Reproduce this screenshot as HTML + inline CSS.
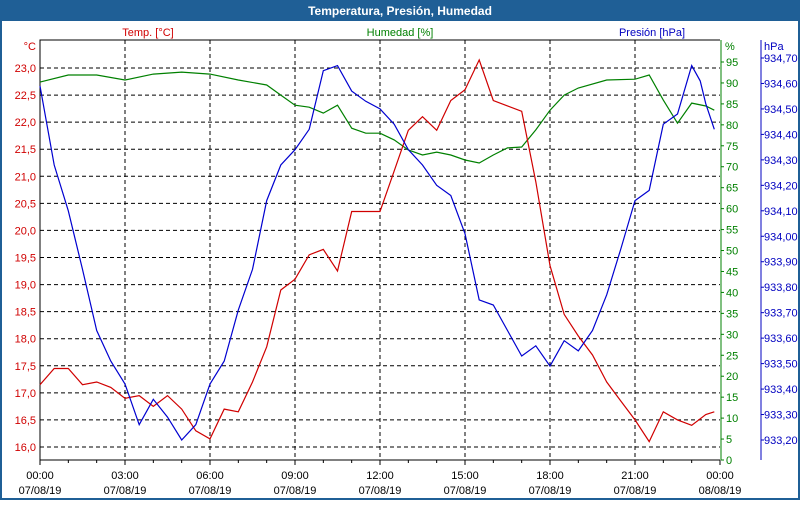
<!DOCTYPE html>
<html><head><meta charset="utf-8"><style>
body{margin:0;background:#fff;font-family:"Liberation Sans",sans-serif}
svg text{font-family:"Liberation Sans",sans-serif;font-size:11px}
</style></head><body>
<svg id="c" width="800" height="500" xmlns="http://www.w3.org/2000/svg">
<rect x="0" y="0" width="800" height="500" fill="#fff" stroke="#1f5f96" stroke-width="4"/>
<rect x="0" y="0" width="800" height="21" fill="#1f5f96"/>
<text x="400" y="15" text-anchor="middle" fill="#fff" font-weight="bold" style="font-size:12px">Temperatura, Presión, Humedad</text>
<text x="148" y="36" text-anchor="middle" fill="#d00000">Temp. [°C]</text>
<text x="400" y="36" text-anchor="middle" fill="#008000">Humedad [%]</text>
<text x="652" y="36" text-anchor="middle" fill="#0000c0">Presión [hPa]</text>
<text x="36" y="50" text-anchor="end" fill="#d00000">°C</text>
<text x="725" y="50" fill="#008000">%</text>
<text x="764" y="50" fill="#0000c0">hPa</text>
<g id="g"></g>
</svg>
<script>
const hours=[0,.5,1,1.5,2,2.5,3,3.5,4,4.5,5,5.5,6,6.5,7,7.5,8,8.5,9,9.5,10,10.5,11,11.5,12,12.5,13,13.5,14,14.5,15,15.5,16,16.5,17,17.5,18,18.5,19,19.5,20,20.5,21,21.5,22,22.5,23,23.5,23.8];
const temp=[17.15,17.45,17.45,17.15,17.2,17.1,16.9,16.95,16.75,16.95,16.7,16.3,16.15,16.7,16.65,17.2,17.85,18.9,19.1,19.55,19.65,19.25,20.35,20.35,20.35,21.1,21.85,22.1,21.85,22.4,22.6,23.15,22.4,22.3,22.2,20.9,19.35,18.45,18.05,17.7,17.2,16.85,16.5,16.1,16.65,16.5,16.4,16.6,16.65];
const humHours=[0,1,2,3,4,5,6,7,8,8.5,9,9.5,10,10.5,11,11.5,12,12.5,13,13.5,14,14.5,15,15.5,16,16.5,17,17.5,18,18.5,19,20,21,21.5,22,22.5,23,23.5,23.8];
const hum=[90.2,91.9,91.9,90.7,92.1,92.6,92.1,90.7,89.5,87.1,84.7,84.2,82.8,84.7,79.2,78,78,76.4,74,72.8,73.5,72.8,71.6,70.9,72.8,74.5,74.7,78.8,83.5,87.1,88.8,90.7,90.9,91.9,85.9,80.4,85.2,84.5,83.5];
const presHours=[0,.5,1,1.5,2,2.5,3,3.5,4,4.5,5,5.5,6,6.5,7,7.5,8,8.5,9,9.5,10,10.5,11,11.5,12,12.5,13,13.5,14,14.5,15,15.5,16,16.5,17,17.5,18,18.5,19,19.5,20,20.5,21,21.5,22,22.5,23,23.3,23.5,23.8];
const pres=[934.59,934.28,934.10,933.87,933.63,933.51,933.42,933.26,933.36,933.29,933.20,933.26,933.42,933.51,933.71,933.87,934.14,934.28,934.34,934.42,934.65,934.67,934.57,934.53,934.50,934.44,934.34,934.28,934.20,934.16,934.01,933.75,933.73,933.63,933.53,933.57,933.49,933.59,933.55,933.63,933.77,933.95,934.14,934.18,934.44,934.48,934.67,934.61,934.52,934.42];
const tempTicks=["16,0","16,5","17,0","17,5","18,0","18,5","19,0","19,5","20,0","20,5","21,0","21,5","22,0","22,5","23,0"];
const humTicks=[0,5,10,15,20,25,30,35,40,45,50,55,60,65,70,75,80,85,90,95];
const presTicks=["933,20","933,30","933,40","933,50","933,60","933,70","933,80","933,90","934,00","934,10","934,20","934,30","934,40","934,50","934,60","934,70"];
const timeLabels=["00:00","03:00","06:00","09:00","12:00","15:00","18:00","21:00","00:00"];
const dateLabels=["07/08/19","07/08/19","07/08/19","07/08/19","07/08/19","07/08/19","07/08/19","07/08/19","08/08/19"];

const L=40,R=720,T=40,B=460;
const x=h=>L+h*(R-L)/24;
const yT=v=>447-(v-16)*(447-68)/7;
const yH=v=>460-v*(460-62)/95;
const yP=v=>440-(v-933.2)*(440-58)/1.5;
const g=document.getElementById('g');
const NS='http://www.w3.org/2000/svg';
function mk(t,a,parent){const e=document.createElementNS(NS,t);for(const k in a)e.setAttribute(k,a[k]);(parent||g).appendChild(e);return e;}

// grid
tempTicks.forEach((t,i)=>{const v=16+i*0.5,y=yT(v);
 const l=mk('line',{x1:L,x2:R,y1:y,y2:y,stroke:'#000','stroke-dasharray':'4,3'});
 
 
 const tx=mk('text',{x:36,y:y+4,'text-anchor':'end',fill:'#d00000'});tx.textContent=t;
 
 
});
timeLabels.forEach((t,i)=>{const xx=x(i*3);
 if(i>0&&i<8){const l=mk('line',{x1:xx,x2:xx,y1:T,y2:B,stroke:'#000','stroke-dasharray':'4,3'});
 
 }
 const a=mk('text',{x:xx,y:479,'text-anchor':'middle',fill:'#000'});a.textContent=t;
 
 
 const b=mk('text',{x:xx,y:494,'text-anchor':'middle',fill:'#000'});b.textContent=dateLabels[i];
 
 
});
for(let h=0;h<=24;h++){const xx=x(h);const l=mk('line',{x1:xx,x2:xx,y1:B,y2:B+(h%3?3:5),stroke:'#000'});
 
 }
// axes
const ax=mk('path',{d:`M${L},${B}V${T}H${R}M${L},${B}H${R}`,stroke:'#000',fill:'none'});


const ha=mk('line',{x1:R+1,x2:R+1,y1:T,y2:B,stroke:'#008000'});


humTicks.forEach(v=>{const y=yH(v);mk('line',{x1:R+1,x2:R+4,y1:y,y2:y,stroke:'#008000'});
 const t=mk('text',{x:R+6,y:y+4,fill:'#008000'});t.textContent=v;
 
 });
const pa=mk('line',{x1:761,x2:761,y1:T,y2:B,stroke:'#0000c0'});


presTicks.forEach((s,i)=>{const y=yP(933.2+i*0.1);mk('line',{x1:761,x2:764,y1:y,y2:y,stroke:'#0000c0'});
 const t=mk('text',{x:764,y:y+4,fill:'#0000c0'});t.textContent=s;
 
 });
// series
function line(xs,vs,fy,col,name){const d=xs.map((h,i)=>(i?'L':'M')+x(h).toFixed(1)+','+fy(vs[i]).toFixed(1)).join('');
 const p=mk('path',{d:d,fill:'none',stroke:col,'stroke-width':1.2});
 
 }
line(humHours,hum,yH,'#008000','humidity-line');
line(hours,temp,yT,'#d00000','temperature-line');
line(presHours,pres,yP,'#0000d0','pressure-line');
</script>
</body></html>
